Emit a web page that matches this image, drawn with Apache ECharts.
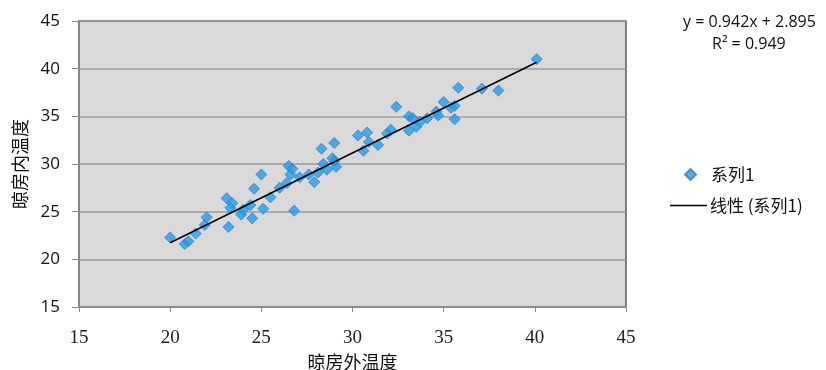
<!DOCTYPE html>
<html>
<head>
<meta charset="utf-8">
<script src="https://cdn.jsdelivr.net/npm/echarts@6/dist/echarts.min.js"></script>
<style>
  html, body { margin: 0; padding: 0; background: #fff; }
  #chart { width: 826px; height: 370px; }
</style>
</head>
<body>
<div id="chart"></div>
<script>
// outside temperature (x) and inside temperature (y) of the curing barn
const outsideTemp = [
  20.0, 20.8, 21.0, 21.4, 21.9, 22.0, 23.2, 23.1, 23.4, 23.3,
  23.9, 24.0, 24.4, 24.5, 24.6, 25.0, 25.1, 25.5, 26.0, 26.4,
  26.5, 26.7, 26.6, 26.8, 27.1, 27.6, 27.9, 28.1, 28.3, 28.4,
  28.6, 28.9, 29.0, 29.1, 29.0, 30.3, 30.6, 30.8, 30.9, 31.4,
  31.9, 32.1, 32.4, 33.1, 33.3, 33.1, 33.5, 33.7, 34.1, 34.6,
  34.7, 35.0, 35.4, 35.6, 35.6, 35.8, 37.1, 38.0, 40.1
];
const insideTemp = [
  22.3, 21.6, 21.9, 22.7, 23.6, 24.4, 23.4, 26.4, 25.9, 25.4,
  24.7, 25.2, 25.7, 24.3, 27.4, 28.9, 25.3, 26.5, 27.5, 28.0,
  29.8, 29.5, 28.9, 25.1, 28.6, 28.9, 28.1, 29.1, 31.6, 30.0,
  29.4, 30.6, 32.2, 29.7, 30.3, 33.0, 31.4, 33.3, 32.3, 32.0,
  33.2, 33.6, 36.0, 35.0, 34.8, 33.5, 33.9, 34.4, 34.8, 35.5,
  35.1, 36.5, 35.9, 36.1, 34.7, 38.0, 37.9, 37.7, 41.0
];
const slope = 0.942;
const intercept = 2.895;
const rSquared = 0.949;
const xTicks = [15, 45, 5];
const yTicks = [15, 45, 5];

const points = outsideTemp.map((x, i) => [x, insideTemp[i]]);
const xMin = Math.min(...outsideTemp);
const xMax = Math.max(...outsideTemp);
const trend = [xMin, xMax].map(x => [x, slope * x + intercept]);

const chart = echarts.init(document.getElementById('chart'));

const option = {
  animation: false,
  backgroundColor: '#fff',
  grid: {
    left: 79,
    top: 21,
    width: 547,
    height: 286,
    outerBoundsMode: 'none',
    containLabel: false,
    show: true,
    backgroundColor: '#d9d9d9',
    borderColor: '#5a5a5a',
    borderWidth: 1.5,
  },
  graphic: [
    {
      type: 'text',
      left: 683,
      top: 14,
      style: {
        text: 'y = ' + slope + 'x + ' + intercept,
        fontFamily: 'Open Sans',
        fontSize: 16,
        fill: '#111',
      },
    },
    {
      type: 'text',
      left: 712,
      top: 36,
      style: {
        text: 'R² = ' + rSquared,
        fontFamily: 'Open Sans',
        fontSize: 16,
        fill: '#111',
      },
    },
  ],
  legend: [
    {
      data: ['系列1'],
      left: 679,
      top: 161,
      icon: 'diamond',
      itemWidth: 11,
      itemHeight: 11,
      textStyle: { fontFamily: 'Noto Sans CJK SC', fontSize: 17, color: '#111', padding: [0, 0, 0, 10] },
    },
    {
      data: ['线性 (系列1)'],
      left: 665,
      top: 192,
      itemWidth: 37,
      itemHeight: 1.5,
      icon: 'rect',
      itemStyle: { color: '#000' },
      textStyle: { fontFamily: 'Noto Sans CJK SC', fontSize: 17, color: '#111', padding: [0, 0, 0, -2] },
    },
  ],
  xAxis: {
    type: 'value',
    min: xTicks[0],
    max: xTicks[1],
    interval: xTicks[2],
    name: '晾房外温度',
    nameLocation: 'middle',
    nameGap: 41,
    nameTextStyle: { fontFamily: 'Noto Sans CJK SC', fontSize: 18, color: '#111' },
    axisLine: { lineStyle: { color: '#8a8a8a', width: 1.5 } },
    axisTick: { show: true, length: 5, lineStyle: { color: '#8a8a8a' } },
    axisLabel: { margin: 22, fontFamily: 'Liberation Serif', fontSize: 19, color: '#222' },
    splitLine: { show: false },
  },
  yAxis: {
    type: 'value',
    min: yTicks[0],
    max: yTicks[1],
    interval: yTicks[2],
    name: '晾房内温度',
    nameLocation: 'middle',
    nameGap: 50,
    nameTextStyle: { fontFamily: 'Noto Sans CJK SC', fontSize: 18, color: '#111' },
    axisLine: { show: true, lineStyle: { color: '#8a8a8a', width: 1.5 } },
    axisTick: { show: true, length: 7, lineStyle: { color: '#8a8a8a' } },
    axisLabel: { margin: 19, fontFamily: 'Open Sans', fontSize: 17, color: '#111' },
    splitLine: { show: true, lineStyle: { color: '#9c9c9c', width: 1.5 } },
  },
  series: [
    {
      name: '系列1',
      type: 'scatter',
      data: points,
      symbol: 'diamond',
      symbolSize: 11,
      itemStyle: { color: '#1f9ee8', borderColor: '#3b7cc6', borderWidth: 1 },
      z: 3,
    },
    {
      name: '线性 (系列1)',
      type: 'line',
      data: trend,
      showSymbol: false,
      lineStyle: { color: '#000', width: 1.5 },
      itemStyle: { color: '#000' },
      z: 4,
    },
  ],
};

chart.setOption(option);
</script>
</body>
</html>
